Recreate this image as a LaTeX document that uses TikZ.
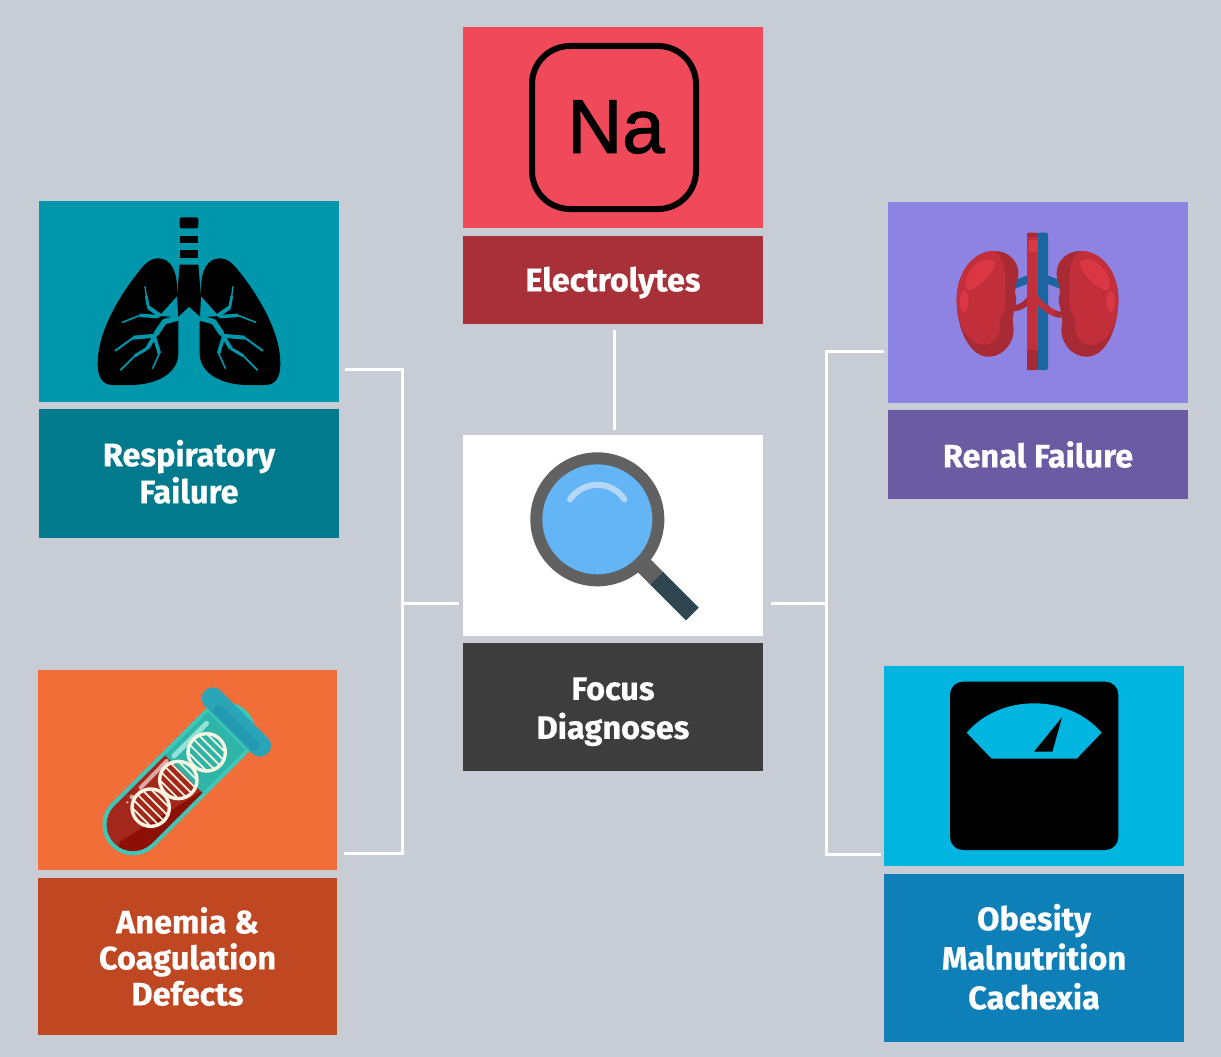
\documentclass[tikz,border=0pt]{standalone}
\usepackage{fontspec}
\setsansfont{Fira Sans}[BoldFeatures={FakeBold=0.5}]
\newfontfamily\naface{Liberation Sans}[FakeBold=1.5]
\definecolor{bgc}{HTML}{C8CCD5}
\definecolor{lungT}{HTML}{0097AC}\definecolor{lungL}{HTML}{007A8C}
\definecolor{elecT}{HTML}{F04A5A}\definecolor{elecL}{HTML}{A83038}
\definecolor{anemT}{HTML}{F26E38}\definecolor{anemL}{HTML}{BF4722}
\definecolor{renT}{HTML}{8E82E2}\definecolor{renL}{HTML}{6A5BA3}
\definecolor{obeT}{HTML}{00B5DF}\definecolor{obeL}{HTML}{0F7FB8}
\definecolor{focL}{HTML}{3D3D3D}
\definecolor{kidD}{HTML}{A82A35}\definecolor{kidM}{HTML}{C22E3A}\definecolor{kidH}{HTML}{DA3644}
\definecolor{veinB}{HTML}{1B66A0}\definecolor{artD}{HTML}{A52A35}
\definecolor{tubeO}{HTML}{3CC8B8}\definecolor{tubeI}{HTML}{2FB5A8}
\definecolor{bloodA}{HTML}{A3271A}\definecolor{bloodB}{HTML}{8E0F05}
\definecolor{capA}{HTML}{2AA5B8}\definecolor{capB}{HTML}{2299AE}
\definecolor{dnaC}{HTML}{F8F4E2}
\definecolor{magG}{HTML}{616161}\definecolor{magD}{HTML}{2F4550}
\definecolor{magB}{HTML}{64B5F6}\definecolor{magH}{HTML}{B5D8F7}
\tikzset{
  panel/.style={rectangle,inner sep=0pt,minimum width=300pt,text=white,font=\sffamily\bfseries\fontsize{32.5}{37}\selectfont,align=center},
  link/.style={draw=white,line width=3pt},
  zoomed/.style={shift={(#1)},scale=1/3}
}
\newcommand{\kidneybody}{%
  \fill[kidD] (345,153) .. controls (390,153) and (418,190) .. (415,225) .. controls (412,250) and (400,265) .. (408,290) .. controls (412,320) and (392,345) .. (400,375) .. controls (408,420) and (375,470) .. (325,470) .. controls (265,470) and (230,380) .. (230,300) .. controls (230,210) and (285,153) .. (345,153) -- cycle;
  \fill[kidM] (340,153) .. controls (365,160) and (380,200) .. (375,260) .. controls (382,300) and (378,330) .. (358,360) .. controls (368,400) and (345,435) .. (310,435) .. controls (260,430) and (230,370) .. (230,300) .. controls (230,210) and (285,153) .. (340,153) -- cycle;
  \fill[kidH] (345,190) .. controls (345,215) and (290,275) .. (262,270) .. controls (245,255) and (265,200) .. (300,185) .. controls (320,175) and (345,175) .. (345,190) -- cycle;
  \fill[kidH] (252,272) .. controls (268,275) and (272,330) .. (252,338) .. controls (235,330) and (236,278) .. (252,272) -- cycle;
}
\begin{document}
\begin{tikzpicture}[x=1pt,y=-1pt]
\useasboundingbox (0,0) rectangle (1221,1057);
\fill[bgc] (0,0) rectangle (1221,1057);

% panels
\node[panel,fill=elecT,minimum height=201pt] (elecImg) at (613,127.5) {};
\node[panel,fill=elecL,minimum height=88pt,text depth=2pt] (elecLab) at (613,280) {Electrolytes};
\node[panel,fill=lungT,minimum height=201pt] (respImg) at (189,301.5) {};
\node[panel,fill=lungL,minimum height=129pt] (respLab) at (189,473.5) {Respiratory\\Failure\rule[-4pt]{0pt}{4pt}};
\node[panel,fill=anemT,minimum width=299pt,minimum height=200pt] (anemImg) at (187.5,770) {};
\node[panel,fill=anemL,minimum width=299pt,minimum height=157pt,font=\sffamily\bfseries\fontsize{32.5}{36}\selectfont] (anemLab) at (187.5,956.5) {Anemia \&\\Coagulation\\Defects};
\node[panel,fill=renT,minimum height=201pt] (renImg) at (1038,302.5) {};
\node[panel,fill=renL,minimum height=89pt] (renLab) at (1038,454.5) {Renal Failure};
\node[panel,fill=obeT,minimum height=200pt] (obeImg) at (1034,766) {};
\node[panel,fill=obeL,minimum height=168pt,font=\sffamily\bfseries\fontsize{32.5}{39.5}\selectfont] (obeLab) at (1034,958) {Obesity\\Malnutrition\\Cachexia\rule[-3pt]{0pt}{3pt}};
\node[panel,fill=white,minimum height=201pt] (focImg) at (613,535.5) {};
\node[panel,fill=focL,minimum height=128pt,font=\sffamily\bfseries\fontsize{32.5}{39}\selectfont] (focLab) at (613,707) {\rule{0pt}{32pt}Focus\\Diagnoses};

% connectors
\coordinate (leftBus) at (402,603);
\coordinate (rightBus) at (826,603);
\coordinate (respEnd) at (345,369);
\coordinate (anemEnd) at (344,853);
\coordinate (renEnd) at (884,351);
\coordinate (obeEnd) at (881,854);
\coordinate (topX) at (614,0);
\draw[link] (respEnd) -| (leftBus) |- (anemEnd);
\draw[link,shorten >=4pt] (leftBus) -- (focImg.west |- leftBus);
\draw[link] (renEnd) -| (rightBus) |- (obeEnd);
\draw[link,shorten >=8pt] (rightBus) -- (focImg.east |- rightBus);
\draw[link,shorten <=6pt,shorten >=5pt] (elecLab.south -| topX) -- (focImg.north -| topX);

% Na icon
\draw[black,line width=6pt,rounded corners=38pt] (532,46) rectangle (696,209);
\node[inner sep=0pt,font=\naface\fontsize{76}{76}\selectfont] (naText) at (616,127) {Na};

% lungs
\begin{scope}[zoomed={30,190}]
  \foreach \m in {0,1}{
    \begin{scope}[shift={(954*\m,0)},xscale={1-2*\m}]
      \fill[black] (385,205) .. controls (420,205) and (442,240) .. (441,300) -- (445,378) -- (445,490) .. controls (445,550) and (380,585) .. (300,585) -- (250,585) .. controls (215,585) and (203,560) .. (203,520) .. controls (203,440) and (250,340) .. (330,240) .. controls (350,215) and (365,205) .. (385,205) -- cycle;
      \fill[lungT] (442,318) -- (388,378) -- (447,382) -- cycle;
      \draw[lungT,line width=5.5pt,line join=round] (447,383) -- (403,395) -- (378,432);
      \draw[lungT,line width=4pt,line join=round] (378,432) -- (352,475);
      \draw[lungT,line width=3pt,line join=round] (352,475) -- (315,497);
      \draw[lungT,line width=1.8pt,line cap=round] (315,497) -- (272,540);
      \draw[lungT,line width=4pt,line join=round] (392,378) -- (355,352);
      \draw[lungT,line width=2.8pt,line cap=round] (355,352) -- (349,320);
      \draw[lungT,line width=1.4pt,line cap=round] (349,320) -- (345,290);
      \draw[lungT,line width=3.5pt,line join=round] (385,380) -- (330,376);
      \draw[lungT,line width=1.6pt,line cap=round] (330,376) -- (277,397);
      \draw[lungT,line width=4pt,line join=round] (378,437) -- (310,443);
      \draw[lungT,line width=2pt,line cap=round] (310,443) -- (256,482);
      \draw[lungT,line width=3.5pt,line join=round] (375,445) -- (388,490);
      \draw[lungT,line width=1.6pt,line cap=round] (388,490) -- (368,535);
    \end{scope}}
  \fill[black,rounded corners=2pt] (449,82) rectangle (505,115);
  \fill[black] (449,137) rectangle (505,158);
  \fill[black] (449,180) rectangle (505,203);
  \fill[black] (449,224) -- (505,224) -- (513,320) -- (510,380) -- (477,350) -- (445,380) -- (441,320) -- cycle;
\end{scope}

% test tube
\begin{scope}[zoomed={30,665}]
  \draw[tubeO,line width=61pt,line cap=round] (309,479) -- (585,203);
  \draw[tubeI,line width=53pt] (461,327) -- (590,198);
  \begin{scope}
    \clip (405,271) -- (253,423) .. controls (222,454) and (222,504) .. (253,535) .. controls (284,566) and (334,566) .. (365,535) -- (517,383) -- cycle;
    \fill[bloodA] (200,200) rectangle (600,600);
    \fill[bloodB] (530,370) -- (270,530) -- (250,600) -- (500,600) -- cycle;
  \end{scope}
  \draw[white!60!bloodA,line width=4pt,line cap=round] (410,288) -- (332,368);
  \fill[white!60!bloodA] (306,396) circle (7);
  \fill[white!60!bloodA] (292,412) circle (4);
  \draw[white!45!tubeO,line width=5pt,line cap=round] (530,175) -- (432,273);
  \draw[capA,line width=22pt,line cap=round] (548,100) -- (690,242);
  \draw[capB,line width=10pt,line cap=round] (565,135) -- (672,242);
  \foreach \cx/\cy in {362/428,445/345,530/262}{
    \begin{scope}
      \clip (\cx,\cy) circle (56);
      \foreach \d in {-70,-56,...,70}
        \draw[dnaC,line width=1.7pt] ({\cx-80+\d},{\cy-80-\d}) -- ({\cx+80+\d},{\cy+80-\d});
    \end{scope}
    \draw[dnaC,line width=3.4pt] (\cx,\cy) circle (56);
  }
\end{scope}

% kidneys
\begin{scope}[zoomed={880,200}]
  \draw[veinB,line width=8pt] (400,255) -- (445,238);
  \draw[artD,line width=6pt] (395,325) .. controls (425,325) and (440,310) .. (458,285);
  \kidneybody
  \begin{scope}[shift={(945,0)},xscale=-1]
    \draw[veinB,line width=8pt] (400,255) -- (445,238);
    \draw[artD,line width=6pt] (400,345) .. controls (440,340) and (450,320) .. (472,285);
    \kidneybody
  \end{scope}
  \fill[veinB,rounded corners=2pt] (473,98) rectangle (504,510);
  \fill[kidM,rounded corners=2pt] (441,98) rectangle (473,510);
  \fill[artD] (441,98) rectangle (473,112);
  \fill[artD] (441,450) rectangle (473,510);
  \fill[kidH] (447,120) rectangle (473,155);
  \draw[kidM,line width=6pt] (457,280) .. controls (475,305) and (490,325) .. (525,340);
\end{scope}

% scale
\begin{scope}[zoomed={880,660}]
  \fill[black,rounded corners=13pt] (210,65) rectangle (715,570);
  \fill[obeT] (260,218) .. controls (310,160) and (385,130) .. (462,130) .. controls (540,130) and (615,160) .. (665,218) -- (590,296) -- (335,296) -- cycle;
  \fill[black] (462,275) -- (546,172) -- (517,275) -- cycle;
\end{scope}

% magnifier
\begin{scope}[zoomed={460,430}]
  \draw[magG,line width=18pt] (550,405) -- (592,447);
  \draw[magD,line width=18pt] (590,445) -- (697,552);
  \fill[magG] (412,268) circle (201);
  \fill[magB] (412,268) circle (165);
  \draw[magH,line width=6pt,line cap=round] (330,208) .. controls (370,150) and (455,150) .. (493,208);
\end{scope}
\end{tikzpicture}
\end{document}
